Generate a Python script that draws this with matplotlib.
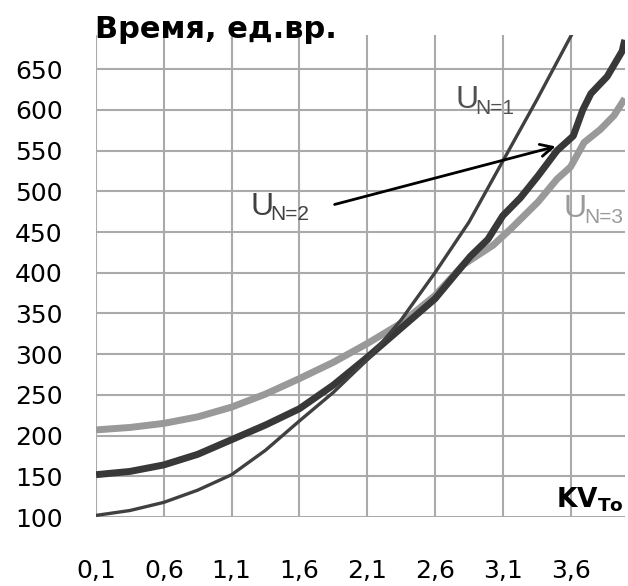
import matplotlib
matplotlib.use("Agg")
import matplotlib.pyplot as plt

# U_N=1 (thin dark curve)
x_u1 = [0.1, 0.35, 0.6, 0.85, 1.1, 1.35, 1.6, 1.85, 2.1, 2.35, 2.6, 2.85, 3.1, 3.35, 3.6, 3.65]
y_u1 = [102, 108, 118, 133, 152, 182, 218, 253, 293, 342, 400, 462, 537, 612, 690, 705]

# U_N=2 (thick dark curve)
x_u2 = [0.1, 0.35, 0.6, 0.85, 1.1, 1.35, 1.6, 1.85, 2.1, 2.35, 2.6, 2.86, 2.99, 3.1, 3.23,
        3.36, 3.5, 3.62, 3.69, 3.75, 3.87, 3.98, 4.0]
y_u2 = [152, 156, 164, 177, 195, 213, 233, 262, 296, 332, 368, 420, 441, 470, 492,
        519, 550, 568, 600, 620, 641, 672, 686]

# U_N=3 (thick light gray curve)
x_u3 = [0.1, 0.35, 0.6, 0.85, 1.1, 1.35, 1.6, 1.85, 2.1, 2.35, 2.6, 2.81, 3.03, 3.16,
        3.36, 3.5, 3.6, 3.7, 3.82, 3.92, 4.0]
y_u3 = [207, 210, 215, 223, 235, 251, 270, 290, 313, 338, 372, 410, 434, 454,
        487, 515, 530, 560, 576, 593, 614]

x_ticks = [0.1, 0.6, 1.1, 1.6, 2.1, 2.6, 3.1, 3.6]
x_labels = ["0,1", "0,6", "1,1", "1,6", "2,1", "2,6", "3,1", "3,6"]
y_ticks = list(range(100, 651, 50))

# curve labels: (x, y, subscript, colour)
curve_labels = [
    (2.75, 602, "N=1", "#505050"),
    (1.237, 471, "N=2", "#404040"),
    (3.55, 468, "N=3", "#9a9a9a"),
]

fig = plt.figure(figsize=(6.28, 5.86), dpi=100)
ax = fig.add_axes([0.1529, 0.1177, 0.842, 0.8226])

ax.plot(x_u3, y_u3, color="#999999", lw=5, solid_capstyle="butt", zorder=3)
ax.plot(x_u2, y_u2, color="#383838", lw=5, solid_capstyle="butt", zorder=4)
ax.plot(x_u1, y_u1, color="#404040", lw=2.4, zorder=5)

ax.set_xlim(0.1, 4.0)
ax.set_ylim(100, 692)
ax.set_xticks(x_ticks)
ax.set_xticklabels(x_labels)
ax.set_yticks(y_ticks)
ax.tick_params(axis="x", length=0, pad=30, labelsize=18)
ax.tick_params(axis="y", length=0, pad=24, labelsize=18)
ax.grid(True, color="#aaaaaa", lw=1.5)
ax.set_axisbelow(True)
for s in ax.spines.values():
    s.set_visible(False)

for lx, ly, sub, col in curve_labels:
    ax.annotate("U", xy=(lx, ly), fontsize=23, color=col, family="Liberation Sans",
                va="baseline", ha="left", zorder=6, annotation_clip=False)
    ax.annotate(sub, xy=(lx, ly), xytext=(14.5, -4), textcoords="offset points",
                fontsize=15, color=col, family="Liberation Sans",
                va="baseline", ha="left", zorder=6, annotation_clip=False)

ax.text(3.49, 112, r"KV$_{\mathbf{To}}$", fontsize=19, fontweight="bold", color="black",
        zorder=6)

ax.annotate("", xy=(3.51, 556), xytext=(1.84, 483),
            arrowprops=dict(arrowstyle="->", lw=2, color="black", mutation_scale=22),
            zorder=7)

fig.text(95 / 628, 1 - 38 / 586, "Время, ед.вр.", fontsize=22, fontweight="bold",
         va="baseline", ha="left")

fig.savefig("out.png", dpi=100)
